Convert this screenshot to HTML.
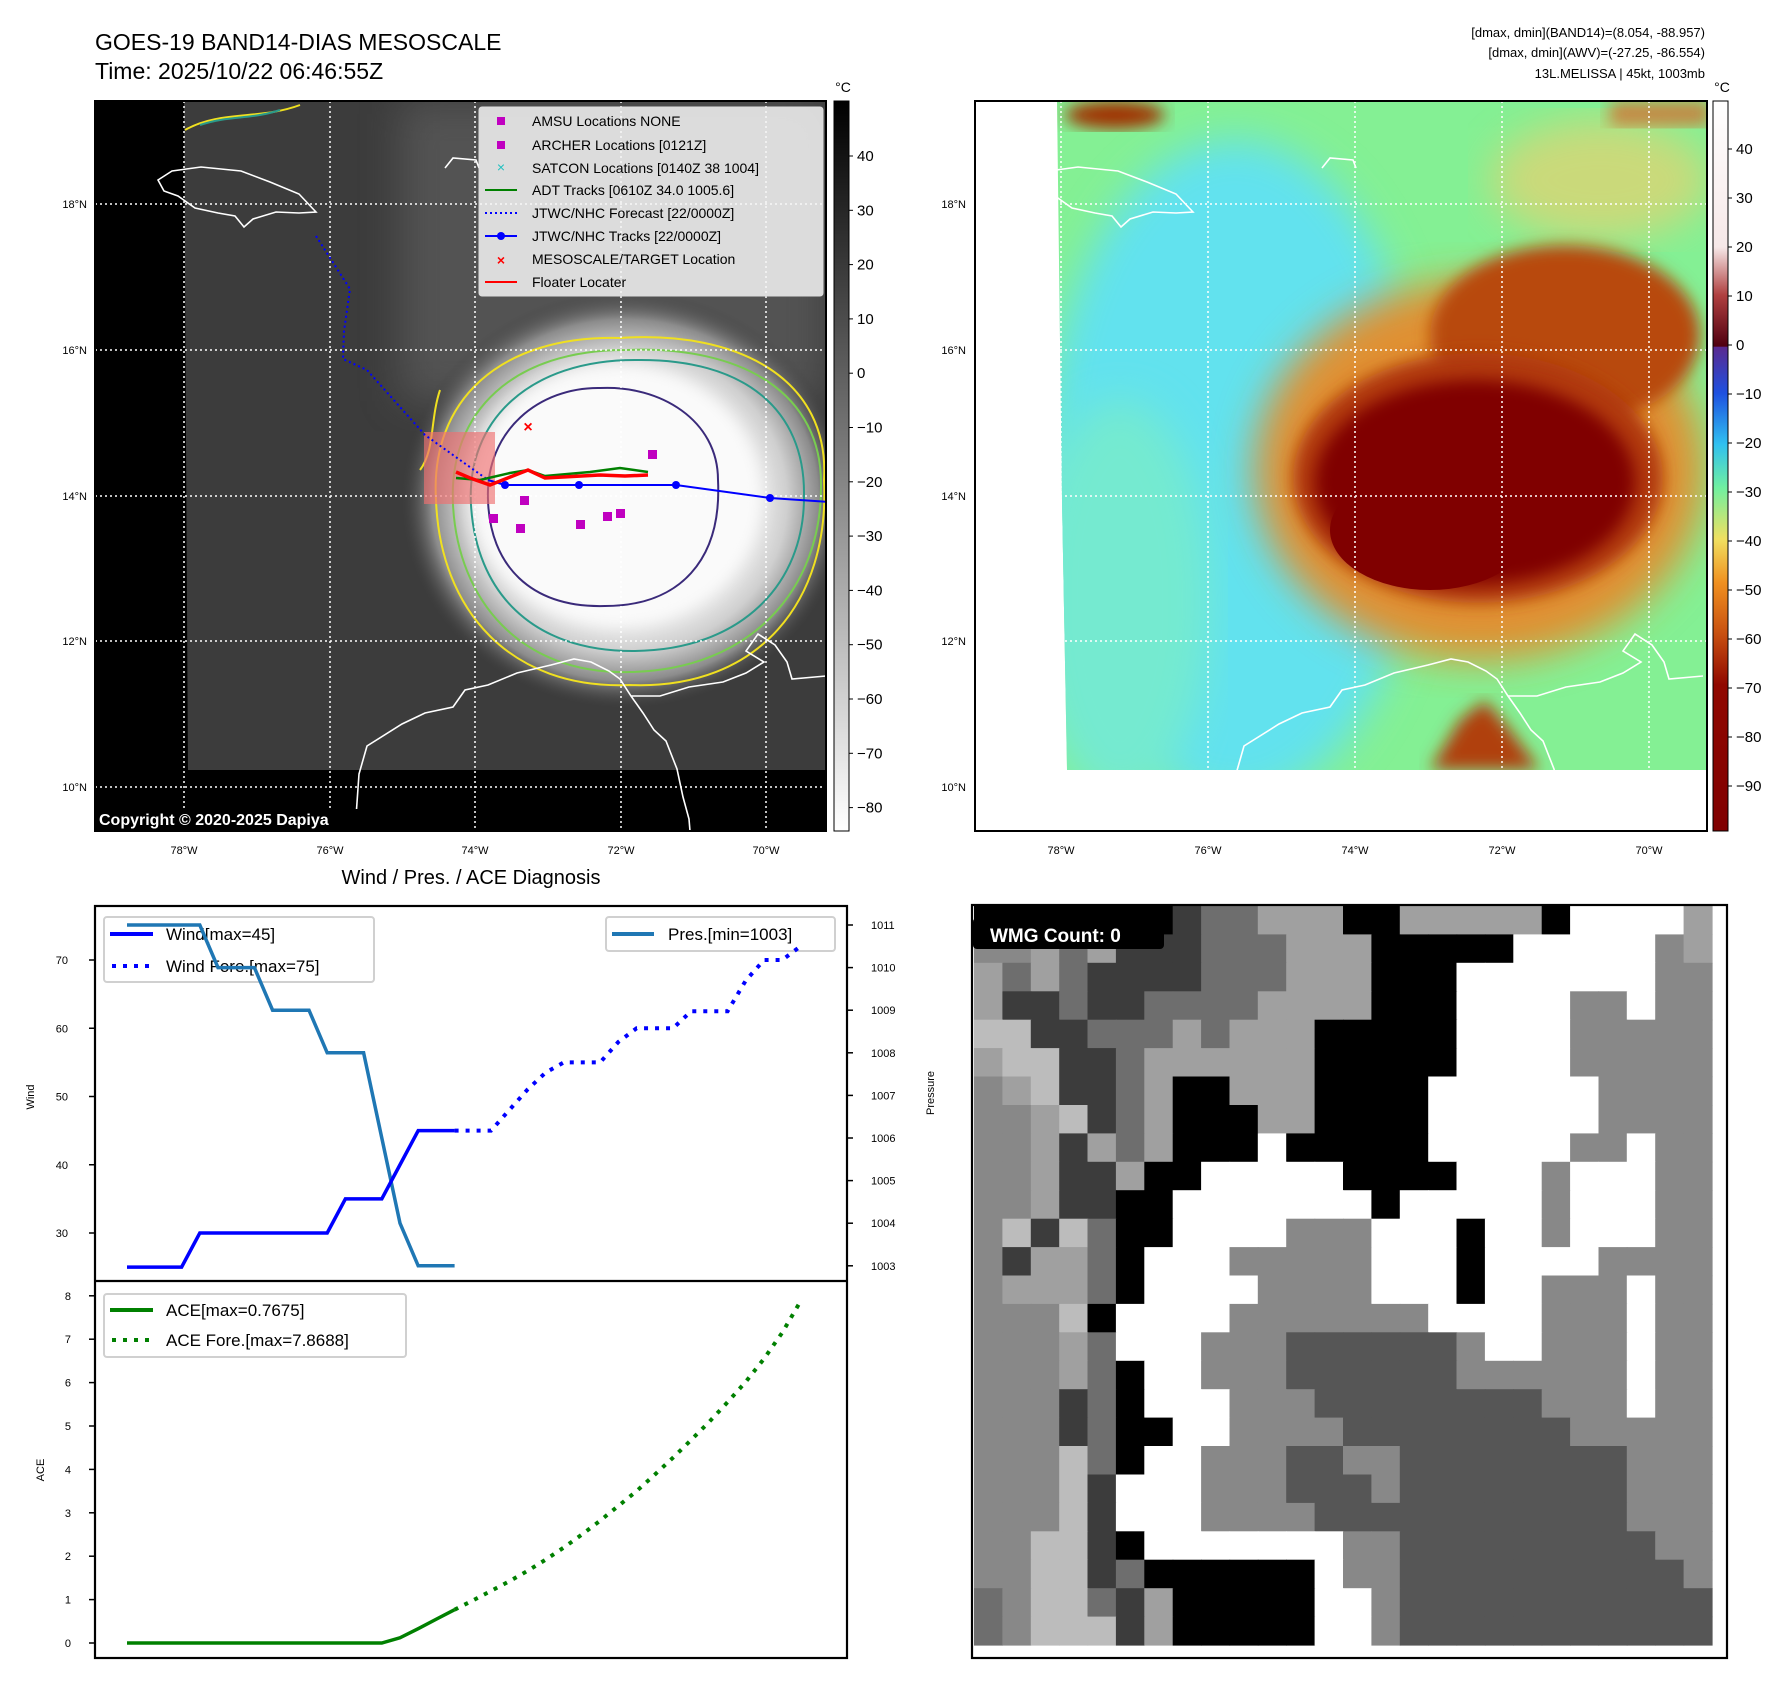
<!DOCTYPE html>
<html><head><meta charset="utf-8">
<style>
html,body{margin:0;padding:0;background:#fff;}
svg{display:block;font-family:"Liberation Sans",sans-serif;}
</style></head>
<body>
<svg id="root" width="1788" height="1690" viewBox="0 0 1788 1690" xmlns="http://www.w3.org/2000/svg">
<defs>
 <clipPath id="clipL"><rect x="95" y="101" width="731" height="730"/></clipPath>
 <clipPath id="clipR"><rect x="975" y="101" width="732" height="730"/></clipPath>
 <radialGradient id="storm" cx="0.5" cy="0.5" r="0.5">
  <stop offset="0" stop-color="#ffffff"/>
  <stop offset="0.55" stop-color="#f4f4f4"/>
  <stop offset="0.72" stop-color="#cfcfcf"/>
  <stop offset="0.86" stop-color="#8c8c8c"/>
  <stop offset="1" stop-color="#3a3a3a" stop-opacity="0"/>
 </radialGradient>
 <linearGradient id="cbGrey" x1="0" y1="0" x2="0" y2="1">
  <stop offset="0" stop-color="#000"/><stop offset="1" stop-color="#fff"/>
 </linearGradient>
 <linearGradient id="cbColor" x1="0" y1="0" x2="0" y2="1">
  <stop offset="0" stop-color="#ffffff"/>
  <stop offset="0.2" stop-color="#f6e8e8"/>
  <stop offset="0.266" stop-color="#b04040"/>
  <stop offset="0.336" stop-color="#500010"/>
  <stop offset="0.337" stop-color="#5a2a90"/>
  <stop offset="0.40" stop-color="#1e50e0"/>
  <stop offset="0.47" stop-color="#30c0f0"/>
  <stop offset="0.53" stop-color="#70f0a0"/>
  <stop offset="0.60" stop-color="#f0e060"/>
  <stop offset="0.66" stop-color="#f09020"/>
  <stop offset="0.73" stop-color="#c85010"/>
  <stop offset="0.80" stop-color="#900800"/>
  <stop offset="1" stop-color="#800000"/>
 </linearGradient>
 <filter id="blur8"><feGaussianBlur stdDeviation="8"/></filter>
 <filter id="blur20"><feGaussianBlur stdDeviation="20"/></filter>
 <g id="coast" fill="none" stroke="#fff" stroke-width="1.6">
  <path d="M158,180 L172,171 L201,167 L241,171 L270,182 L299,194 L316,212 L299,213 L276,212 L253,219 L244,227 L235,216 L218,213 L195,208 L178,196 L164,191 Z"/>
  <path d="M445,168 L453,158 L476,160 L479,168"/>
  <path d="M355,831 L359,774 L367,746 L402,724 L425,713 L453,707 L465,690 L488,685 L517,673 L551,665 L574,659 L591,662 L609,671 L620,679 L631,696 L643,713 L654,730 L666,741 L677,769 L683,797 L689,819 L690,831"/>
  <path d="M631,696 L660,696 L689,687 L723,682 L746,673 L764,662 L746,651 L758,634 L775,645 L787,662 L792,679 L826,676"/>
 </g>
</defs>

<text x="95" y="50" font-size="23" fill="#000">GOES-19 BAND14-DIAS MESOSCALE</text>
<text x="95" y="79" font-size="23" fill="#000">Time: 2025/10/22 06:46:55Z</text>

<g clip-path="url(#clipL)">
 <rect x="95" y="101" width="731" height="730" fill="#3c3c3c"/>
 <rect x="400" y="101" width="426" height="300" fill="#6a6a6a" opacity="0.5" filter="url(#blur20)"/>
 <ellipse cx="625" cy="500" rx="225" ry="210" fill="url(#storm)"/>
 <ellipse cx="615" cy="495" rx="145" ry="130" fill="#fafafa" filter="url(#blur8)"/>
 <polygon points="95,101 184,101 188,775 95,775" fill="#000"/>
 <rect x="95" y="770" width="731" height="61" fill="#000"/>
 <g fill="none" stroke-width="2">
  <path d="M436,500 C430,400 500,335 620,338 C740,330 830,380 824,480 C830,600 760,690 630,685 C510,690 440,610 436,500 Z" stroke="#f0e020"/>
  <path d="M453,505 C448,410 515,350 625,350 C745,345 822,395 821,485 C822,590 750,670 630,672 C520,675 458,600 453,505 Z" stroke="#78cc50"/>
  <path d="M471,505 C466,420 530,360 635,360 C745,358 805,410 804,495 C805,585 740,650 635,651 C530,652 476,590 471,505 Z" stroke="#2a9a8a"/>
  <path d="M488,500 C485,430 540,387 600,388 C660,385 718,420 718,480 C722,560 680,606 605,606 C530,608 490,565 488,500 Z" stroke="#3a2a7a"/>
  <path d="M185,130 C220,110 260,120 300,105" stroke="#f0e020"/>
  <path d="M200,125 C230,115 250,120 280,110" stroke="#2a9a8a"/>
  <path d="M440,390 C430,420 435,450 420,470" stroke="#f0e020"/>
 </g>
 <use href="#coast"/>
 <g stroke="#fff" stroke-width="1.5" stroke-dasharray="2,3">
  <line x1="184" y1="101" x2="184" y2="831"/><line x1="330" y1="101" x2="330" y2="831"/>
  <line x1="475" y1="101" x2="475" y2="831"/><line x1="621" y1="101" x2="621" y2="831"/>
  <line x1="766" y1="101" x2="766" y2="831"/>
  <line x1="95" y1="204" x2="826" y2="204"/><line x1="95" y1="350" x2="826" y2="350"/>
  <line x1="95" y1="496" x2="826" y2="496"/><line x1="95" y1="641" x2="826" y2="641"/>
  <line x1="95" y1="787" x2="826" y2="787"/>
 </g>
 <rect x="424" y="432" width="71" height="72" fill="#f07070" opacity="0.65"/>
 <polyline points="316,236 350,289 344,331 343,359 367,370 425,435 488,480" fill="none" stroke="#0000ff" stroke-width="2" stroke-dasharray="2,3"/>
 <polyline points="488,480 505,485 579,485 676,485 770,498 830,502" fill="none" stroke="#0000ff" stroke-width="2"/>
 <g fill="#0000ff"><circle cx="505" cy="485" r="4"/><circle cx="579" cy="485" r="4"/><circle cx="676" cy="485" r="4"/><circle cx="770" cy="498" r="4"/></g>
 <polyline points="456,478 480,480 510,473 528,470 545,476 590,472 620,468 648,472" fill="none" stroke="#008000" stroke-width="2.5"/>
 <polyline points="456,472 470,478 490,485 528,470 545,478 600,475 625,476 648,475" fill="none" stroke="#ff0000" stroke-width="3.5"/>
 <g fill="#c000c0">
  <rect x="648" y="450" width="9" height="9"/><rect x="520" y="496" width="9" height="9"/><rect x="489" y="514" width="9" height="9"/>
  <rect x="516" y="524" width="9" height="9"/><rect x="576" y="520" width="9" height="9"/><rect x="603" y="512" width="9" height="9"/><rect x="616" y="509" width="9" height="9"/>
 </g>
 <text x="528" y="432" font-size="16" fill="#f00" font-weight="bold" text-anchor="middle">×</text>
 <rect x="95" y="809" width="310" height="22" fill="#000"/>
 <text x="99" y="825" font-size="16" font-weight="bold" fill="#fff">Copyright © 2020-2025 Dapiya</text>
</g>
<rect x="95" y="101" width="731" height="730" fill="none" stroke="#000" stroke-width="2"/>

<g>
 <rect x="479" y="107" width="344" height="189" rx="3" fill="#f4f4f4" fill-opacity="0.85" stroke="#ddd"/>
 <g font-size="14" fill="#000">
  <rect x="497" y="117" width="8" height="8" fill="#c000c0"/><text x="532" y="126">AMSU Locations NONE</text>
  <rect x="497" y="141" width="8" height="8" fill="#c000c0"/><text x="532" y="150">ARCHER Locations [0121Z]</text>
  <text x="501" y="172" fill="#20c0c0" text-anchor="middle" font-size="14">×</text><text x="532" y="173">SATCON Locations [0140Z 38 1004]</text>
  <line x1="485" y1="190" x2="517" y2="190" stroke="#008000" stroke-width="2"/><text x="532" y="195">ADT Tracks [0610Z 34.0 1005.6]</text>
  <line x1="485" y1="213" x2="517" y2="213" stroke="#0000ff" stroke-width="2" stroke-dasharray="2,3"/><text x="532" y="218">JTWC/NHC Forecast [22/0000Z]</text>
  <line x1="485" y1="236" x2="517" y2="236" stroke="#0000ff" stroke-width="2"/><circle cx="501" cy="236" r="4" fill="#0000ff"/><text x="532" y="241">JTWC/NHC Tracks [22/0000Z]</text>
  <text x="501" y="265" fill="#f00" text-anchor="middle" font-weight="bold">×</text><text x="532" y="264">MESOSCALE/TARGET Location</text>
  <line x1="485" y1="282" x2="517" y2="282" stroke="#f00" stroke-width="2"/><text x="532" y="287">Floater Locater</text>
 </g>
</g>

<g>
 <rect x="834" y="101" width="15" height="730" fill="url(#cbGrey)" stroke="#000" stroke-width="1"/>
 <text x="843" y="92" font-size="14" text-anchor="middle">°C</text>
 <g id="cbLticks" font-size="15"></g>
</g>

<g font-size="11" fill="#000">
 <text x="87" y="208" text-anchor="end">18°N</text><text x="87" y="354" text-anchor="end">16°N</text>
 <text x="87" y="500" text-anchor="end">14°N</text><text x="87" y="645" text-anchor="end">12°N</text>
 <text x="87" y="791" text-anchor="end">10°N</text>
 <text x="184" y="854" text-anchor="middle">78°W</text><text x="330" y="854" text-anchor="middle">76°W</text>
 <text x="475" y="854" text-anchor="middle">74°W</text><text x="621" y="854" text-anchor="middle">72°W</text>
 <text x="766" y="854" text-anchor="middle">70°W</text>
</g>

<g font-size="13" text-anchor="end" fill="#000">
 <text x="1705" y="37">[dmax, dmin](BAND14)=(8.054, -88.957)</text>
 <text x="1705" y="57">[dmax, dmin](AWV)=(-27.25, -86.554)</text>
 <text x="1705" y="78">13L.MELISSA | 45kt, 1003mb</text>
</g>
<g clip-path="url(#clipR)">
 <rect x="975" y="101" width="732" height="730" fill="#fff"/>
 <clipPath id="dataR"><polygon points="1057,101 1707,101 1707,770 1067,770 1062,500"/></clipPath>
 <g clip-path="url(#dataR)">
  <rect x="1050" y="101" width="660" height="670" fill="#84f094"/>
  <ellipse cx="1235" cy="470" rx="190" ry="330" fill="#62e2ee" filter="url(#blur20)"/>
  <ellipse cx="1120" cy="600" rx="90" ry="200" fill="#74ead0" filter="url(#blur20)"/>
  <ellipse cx="1600" cy="180" rx="110" ry="60" fill="#e8d070" opacity="0.7" filter="url(#blur20)"/>
  <ellipse cx="1480" cy="470" rx="225" ry="190" fill="#e09030" filter="url(#blur20)"/>
  <ellipse cx="1565" cy="335" rx="135" ry="90" fill="#b84a08" filter="url(#blur8)"/>
  <ellipse cx="1478" cy="478" rx="185" ry="125" fill="#b03808" filter="url(#blur8)"/>
  <ellipse cx="1475" cy="482" rx="160" ry="102" fill="#800000" filter="url(#blur8)"/>
  <ellipse cx="1430" cy="530" rx="100" ry="60" fill="#800000"/>
  <path d="M1430,770 L1460,720 L1485,700 L1510,730 L1540,770 Z" fill="#b04010" filter="url(#blur8)"/>
  <ellipse cx="1115" cy="115" rx="50" ry="14" fill="#a03000" filter="url(#blur8)"/>
  <rect x="1610" y="101" width="100" height="25" fill="#d07030" opacity="0.8" filter="url(#blur8)"/>
 </g>
 <use href="#coast" transform="translate(877,0)"/>
 <g stroke="#fff" stroke-width="1.5" stroke-dasharray="2,3">
  <line x1="1061" y1="101" x2="1061" y2="831"/><line x1="1208" y1="101" x2="1208" y2="831"/>
  <line x1="1355" y1="101" x2="1355" y2="831"/><line x1="1502" y1="101" x2="1502" y2="831"/>
  <line x1="1649" y1="101" x2="1649" y2="831"/>
  <line x1="975" y1="204" x2="1707" y2="204"/><line x1="975" y1="350" x2="1707" y2="350"/>
  <line x1="975" y1="496" x2="1707" y2="496"/><line x1="975" y1="641" x2="1707" y2="641"/>
  <line x1="975" y1="787" x2="1707" y2="787"/>
 </g>
</g>
<rect x="975" y="101" width="732" height="730" fill="none" stroke="#000" stroke-width="2"/>
<g>
 <rect x="1713" y="101" width="15" height="730" fill="url(#cbColor)" stroke="#000" stroke-width="1"/>
 <text x="1722" y="92" font-size="14" text-anchor="middle">°C</text>
 <g id="cbRticks" font-size="15"></g>
</g>
<g font-size="11" fill="#000">
 <text x="966" y="208" text-anchor="end">18°N</text><text x="966" y="354" text-anchor="end">16°N</text>
 <text x="966" y="500" text-anchor="end">14°N</text><text x="966" y="645" text-anchor="end">12°N</text>
 <text x="966" y="791" text-anchor="end">10°N</text>
 <text x="1061" y="854" text-anchor="middle">78°W</text><text x="1208" y="854" text-anchor="middle">76°W</text>
 <text x="1355" y="854" text-anchor="middle">74°W</text><text x="1502" y="854" text-anchor="middle">72°W</text>
 <text x="1649" y="854" text-anchor="middle">70°W</text>
</g>

<text x="471" y="884" font-size="20" text-anchor="middle">Wind / Pres. / ACE Diagnosis</text>
<g>
 <rect x="104" y="917" width="270" height="65" rx="3" fill="#fff" fill-opacity="0.8" stroke="#d0d0d0" stroke-width="2"/>
 <line x1="110" y1="934" x2="153" y2="934" stroke="#0000ff" stroke-width="4"/>
 <text x="166" y="940" font-size="17">Wind[max=45]</text>
 <line x1="112" y1="966" x2="153" y2="966" stroke="#0000ff" stroke-width="4" stroke-dasharray="4,7"/>
 <text x="166" y="972" font-size="17">Wind Fore.[max=75]</text>
</g>
<g>
 <rect x="606" y="917" width="229" height="34" rx="3" fill="#fff" fill-opacity="0.8" stroke="#d0d0d0" stroke-width="2"/>
 <line x1="612" y1="934" x2="654" y2="934" stroke="#1f77b4" stroke-width="4"/>
 <text x="668" y="940" font-size="17">Pres.[min=1003]</text>
</g>
<g>
 <rect x="104" y="1294" width="302" height="63" rx="3" fill="#fff" fill-opacity="0.8" stroke="#d0d0d0" stroke-width="2"/>
 <line x1="110" y1="1310" x2="153" y2="1310" stroke="#008000" stroke-width="4"/>
 <text x="166" y="1316" font-size="17">ACE[max=0.7675]</text>
 <line x1="112" y1="1340" x2="153" y2="1340" stroke="#008000" stroke-width="4" stroke-dasharray="4,7"/>
 <text x="166" y="1346" font-size="17">ACE Fore.[max=7.8688]</text>
</g>
<g id="chart"></g>
<rect x="95" y="906" width="752" height="752" fill="none" stroke="#000" stroke-width="2.2"/>
<line x1="95" y1="1281" x2="847" y2="1281" stroke="#000" stroke-width="2.2"/>
<text transform="translate(34,1097) rotate(-90)" font-size="11" text-anchor="middle">Wind</text>
<text transform="translate(934,1093) rotate(-90)" font-size="11" text-anchor="middle">Pressure</text>
<text transform="translate(44,1470) rotate(-90)" font-size="11" text-anchor="middle">ACE</text>

<g id="wmg"></g>
<rect x="972" y="905" width="755" height="753" fill="none" stroke="#000" stroke-width="2.2"/>
<rect x="973" y="918" width="191" height="31" rx="4" fill="#000"/>
<text x="990" y="942" font-size="19" font-weight="bold" fill="#fff">WMG Count: 0</text>
</svg>

<script>
const windObs = [25,25,25,25,30,30,30,30,30,30,30,30,35,35,35,40,45,45,45];
const presObs = [1011,1011,1011,1011,1011,1010,1010,1010,1009,1009,1009,1008,1008,1008,1006,1004,1003,1003,1003];
const aceObs = [0,0,0,0,0,0,0,0,0,0,0,0,0,0,0,0.12,0.33,0.55,0.7675];
const windFore = [45,45,45,48,51,53.5,55,55,55,58,60,60,60,62.5,62.5,62.5,67,70,70,72];
const aceFore = [0.7675,0.98,1.2,1.42,1.66,1.92,2.2,2.5,2.82,3.16,3.5,3.88,4.27,4.68,5.1,5.55,6.02,6.55,7.15,7.8688];
const windTicks = [30,40,50,60,70];
const presTicks = [1003,1004,1005,1006,1007,1008,1009,1010,1011];
const aceTicks = [0,1,2,3,4,5,6,7,8];
const irCbTicks = [40,30,20,10,0,-10,-20,-30,-40,-50,-60,-70,-80];
const awvCbTicks = [40,30,20,10,0,-10,-20,-30,-40,-50,-60,-70,-80,-90];
const wmgRows = [
"KKKKKKKDmmlllKKlllllKWWWWl",
"gglmlDDDmmmlllKKKKKWWWWWgl",
"lmlmDDDDmmmlllKKKWWWWWWWgg",
"lDDmDDmmmmllllKKKWWWWggWgg",
"LLDDmmmlmlllKKKKKWWWWggggg",
"lLLDDmllllllKKKKKWWWWggggg",
"glLDDmlKKlllKKKKWWWWWWgggg",
"gglLDmlKKKllKKKKWWWWWWgggg",
"gglDlmlKKKWKKKKKWWWWWggWgg",
"gglDDlKKWWWWWKKKKWWWgWWWgg",
"gglDDKKWWWWWWWKWWWWWgWWWgg",
"gLDLmKKWWWWgggWWWKWWgWWWgg",
"gDllmKWWWgggggWWWKWWWWgggg",
"glllmKWWWWggggWWWKWWgggWgg",
"gggLKWWWWgggggggWWWWgggWgg",
"ggglmWWWgggddddddgWWgggWgg",
"ggglmKWWgggddddddggggggWgg",
"gggDmKWWWgggddddddddgggWgg",
"gggDmKKWWggggddddddddggggg",
"gggLmKWWgggddggddddddddggg",
"gggLDWWWgggdddgddddddddggg",
"gggLDWWWggggdddddddddddggg",
"ggLLDKWWWWWWWggdddddddddgg",
"ggLLDmKKKKKKWggddddddddddg",
"mgLLmDlKKKKKWWgddddddddddd",
"mgLLLDlKKKKKWWgddddddddddd"];

const NS = "http://www.w3.org/2000/svg";
function mk(tag, attrs, parent){ const e=document.createElementNS(NS,tag); for(const k in attrs) e.setAttribute(k,attrs[k]); parent.appendChild(e); return e; }

const X0 = 127, DX = 18.2;
const xIdx = i => X0 + i*DX;
const yWind = v => 960 + (70 - v)*6.825;
const yPres = v => 925 + (1011 - v)*42.6;
const yAce = v => 1643 - v*43.4;
const yIrCb = v => 156 + (40 - v)*5.43;
const yAwvCb = v => 149 + (40 - v)*4.9;

const chart = document.getElementById('chart');
function pts(arr, yf, off){ return arr.map((v,i)=>xIdx(i+off)+','+yf(v)).join(' '); }

windTicks.forEach(v=>{
  const t = mk('line',{x1:89,x2:95,y1:yWind(v),y2:yWind(v),stroke:'#000','stroke-width':1.5},chart);
  
  
  const l = mk('text',{x:68,y:yWind(v)+4,'font-size':11,'text-anchor':'end'},chart);
  l.textContent = v;
  
  
});
presTicks.forEach(v=>{
  const t = mk('line',{x1:847,x2:853,y1:yPres(v),y2:yPres(v),stroke:'#000','stroke-width':1.5},chart);
  
  
  const l = mk('text',{x:871,y:yPres(v)+4,'font-size':11},chart);
  l.textContent = v;
  
  
});
aceTicks.forEach(v=>{
  const t = mk('line',{x1:89,x2:95,y1:yAce(v),y2:yAce(v),stroke:'#000','stroke-width':1.5},chart);
  
  
  const l = mk('text',{x:71,y:yAce(v)+4,'font-size':11,'text-anchor':'end'},chart);
  l.textContent = v;
  
  
});

const pres = mk('polyline',{points:pts(presObs,yPres,0),fill:'none',stroke:'#1f77b4','stroke-width':3.5},chart);


const wind = mk('polyline',{points:pts(windObs,yWind,0),fill:'none',stroke:'#0000ff','stroke-width':3.5},chart);


const windF = mk('polyline',{points:pts(windFore,yWind,windObs.length-1),fill:'none',stroke:'#0000ff','stroke-width':4,'stroke-dasharray':'4,7'},chart);


const ace = mk('polyline',{points:pts(aceObs,yAce,0),fill:'none',stroke:'#008000','stroke-width':3.5},chart);


const aceF = mk('polyline',{points:pts(aceFore,yAce,aceObs.length-1),fill:'none',stroke:'#008000','stroke-width':4,'stroke-dasharray':'4,7'},chart);



const cbL = document.getElementById('cbLticks');
irCbTicks.forEach(v=>{
  mk('line',{x1:849,x2:853,y1:yIrCb(v),y2:yIrCb(v),stroke:'#000'},cbL);
  const l = mk('text',{x:857,y:yIrCb(v)+5},cbL);
  l.textContent = v<0 ? '\u2212'+(-v) : v;
  
  
});
const cbR = document.getElementById('cbRticks');
awvCbTicks.forEach(v=>{
  mk('line',{x1:1728,x2:1732,y1:yAwvCb(v),y2:yAwvCb(v),stroke:'#000'},cbR);
  const l = mk('text',{x:1736,y:yAwvCb(v)+5},cbR);
  l.textContent = v<0 ? '\u2212'+(-v) : v;
  
  
});

const wmg = document.getElementById('wmg');
const col = {K:'#000000',D:'#3c3c3c',d:'#565656',m:'#6e6e6e',g:'#888888',l:'#a0a0a0',L:'#bcbcbc',W:'#ffffff'};
const gx0=974, gy0=906, cw=(1712-974)/26, ch=(1645-906)/26;
mk('rect',{x:972,y:905,width:755,height:753,fill:'#fff'},wmg);
wmgRows.forEach((row,r)=>{
  for(let c=0;c<row.length;c++){
    mk('rect',{x:(gx0+c*cw).toFixed(1),y:(gy0+r*ch).toFixed(1),width:(cw+0.6).toFixed(1),height:(ch+0.6).toFixed(1),fill:col[row[c]]},wmg);
  }
});
</script>
</body></html>
